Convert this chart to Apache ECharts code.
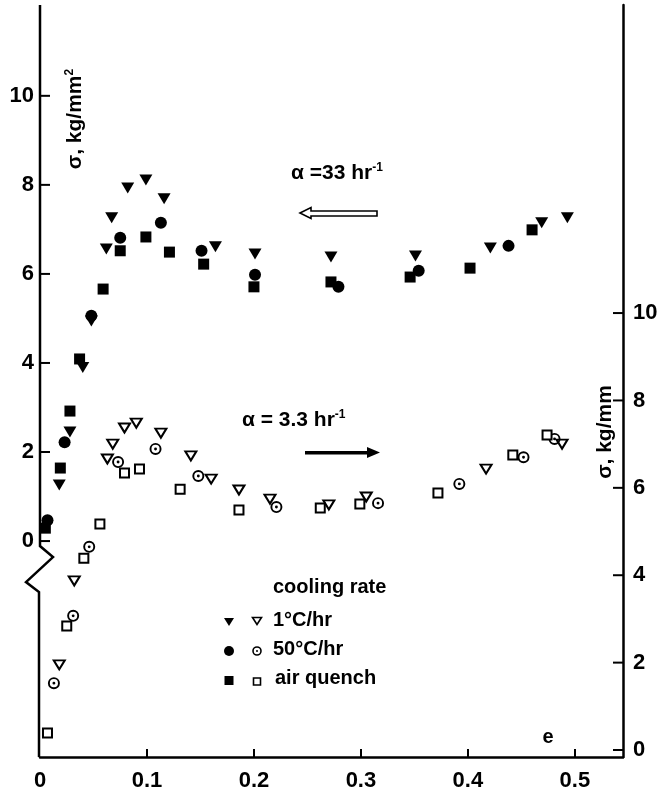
<!DOCTYPE html>
<html>
<head>
<meta charset="utf-8">
<script src="https://cdn.jsdelivr.net/npm/echarts@6/dist/echarts.min.js"></script>
<style>
  html, body { margin: 0; padding: 0; background: #fff; }
  #chart { width: 670px; height: 795px; }
</style>
</head>
<body>
<div id="chart"></div>
<script>
// strain (x) vs stress, alpha = 33 hr^-1 -> left axis, filled symbols
var fast1C = [[0.018,1.26],[0.028,2.45],[0.040,3.90],[0.048,4.94],[0.062,6.56],[0.067,7.26],[0.082,7.93],[0.099,8.11],[0.116,7.69],[0.164,6.61],[0.201,6.45],[0.272,6.38],[0.351,6.40],[0.421,6.58],[0.469,7.15],[0.493,7.26]];
var fast50C = [[0.007,0.47],[0.023,2.22],[0.048,5.06],[0.075,6.81],[0.113,7.15],[0.151,6.52],[0.201,5.98],[0.279,5.71],[0.354,6.07],[0.438,6.63]];
var fastAir = [[0.005,0.29],[0.019,1.64],[0.028,2.92],[0.037,4.09],[0.059,5.66],[0.075,6.52],[0.099,6.83],[0.121,6.49],[0.153,6.22],[0.200,5.71],[0.272,5.82],[0.346,5.93],[0.402,6.13],[0.460,6.99]];

// alpha = 3.3 hr^-1 -> right axis, open symbols
var slow1C = [[0.018,1.95],[0.032,3.87],[0.063,6.66],[0.068,7.00],[0.079,7.37],[0.090,7.48],[0.113,7.25],[0.141,6.73],[0.160,6.20],[0.186,5.95],[0.215,5.74],[0.270,5.61],[0.305,5.79],[0.417,6.43],[0.488,7.00]];
var slow50C = [[0.013,1.53],[0.031,3.07],[0.046,4.65],[0.073,6.59],[0.108,6.89],[0.148,6.27],[0.221,5.56],[0.316,5.65],[0.392,6.09],[0.452,6.70],[0.481,7.12]];
var slowAir = [[0.007,0.39],[0.025,2.84],[0.041,4.39],[0.056,5.17],[0.079,6.34],[0.093,6.43],[0.131,5.97],[0.186,5.49],[0.262,5.54],[0.299,5.63],[0.372,5.88],[0.442,6.75],[0.474,7.21]];

var xTicks = [0, 0.1, 0.2, 0.3, 0.4, 0.5];
var yTicks = [0, 2, 4, 6, 8, 10];

var FONT = 'Liberation Sans';
var INK = '#000';
var dotCircle = 'path://M10,0A10,10,0,1,1,10,20A10,10,0,1,1,10,0ZM10,3.2A6.8,6.8,0,1,0,10,16.8A6.8,6.8,0,1,0,10,3.2ZM10,7.6A2.4,2.4,0,1,1,10,12.4A2.4,2.4,0,1,1,10,7.6Z';

var labelStyle = { fontFamily: FONT, fontWeight: 'bold', fontSize: 22, color: INK };

function filled(name, data, symbol, size, rot) {
  return {
    name: name, type: 'scatter', yAxisIndex: 0, data: data,
    symbol: symbol, symbolSize: size, symbolRotate: rot || 0,
    itemStyle: { color: INK, opacity: 1 }
  };
}
function open(name, data, symbol, size, rot) {
  return {
    name: name, type: 'scatter', yAxisIndex: 1, data: data,
    symbol: symbol, symbolSize: size, symbolRotate: rot || 0,
    itemStyle: symbol === dotCircle ? { color: INK, opacity: 1 } : { color: '#fff', borderColor: INK, borderWidth: 2, opacity: 1 }
  };
}

var option = {
  animation: false,
  backgroundColor: '#fff',
  grid: { left: 40, right: 47, top: 5, bottom: 38 },
  xAxis: {
    type: 'value', min: 0, max: 0.545,
    axisLine: { onZero: false, lineStyle: { color: INK, width: 2.5 } },
    axisTick: { inside: true, length: 8, lineStyle: { color: INK, width: 2 }, customValues: [0.1, 0.2, 0.3, 0.4, 0.5] },
    axisLabel: Object.assign({ margin: 13, customValues: xTicks, formatter: function (v) { return v === 0 ? '0' : v.toFixed(1); } }, labelStyle),
    splitLine: { show: false }
  },
  yAxis: [
    {
      type: 'value', position: 'left', min: -4.85, max: 12.04,
      axisLine: { show: false },
      axisTick: { show: false },
      axisLabel: Object.assign({ margin: 6, customValues: yTicks }, labelStyle),
      splitLine: { show: false }
    },
    {
      type: 'value', position: 'right', min: -0.16, max: 17.05,
      axisLine: { show: true, onZero: false, lineStyle: { color: INK, width: 2.5 } },
      axisTick: { show: false },
      axisLabel: Object.assign({ margin: 10, customValues: yTicks }, labelStyle),
      splitLine: { show: false }
    }
  ],
  series: [
    filled('1°C/hr, 33', fast1C, 'triangle', [13, 11], 180),
    filled('50°C/hr, 33', fast50C, 'circle', 12),
    filled('air quench, 33', fastAir, 'rect', 11),
    open('1°C/hr, 3.3', slow1C, 'triangle', [11, 9], 180),
    open('50°C/hr, 3.3', slow50C, dotCircle, 12),
    open('air quench, 3.3', slowAir, 'rect', 9)
  ]
};

var chart = echarts.init(document.getElementById('chart'));
chart.setOption(option);

// broken left axis, y ticks, labels and annotations
var x0 = chart.convertToPixel({ xAxisIndex: 0 }, 0);
var x1 = chart.convertToPixel({ xAxisIndex: 0 }, 0.545);
var yTop = chart.convertToPixel({ yAxisIndex: 0 }, 12.04);
var yZero = chart.convertToPixel({ yAxisIndex: 0 }, 0);
var yBot = chart.convertToPixel({ yAxisIndex: 0 }, -4.85);

var supRich = {
  m: { fontFamily: FONT, fontWeight: 'bold', fontSize: 21, fill: INK },
  s: { fontFamily: FONT, fontWeight: 'bold', fontSize: 12, fill: INK, verticalAlign: 'top', padding: [0, 0, 10, 0] }
};

function tri(cx, cy, w, h, fill) {
  return { type: 'polygon', shape: { points: [[cx - w / 2, cy - h / 2], [cx + w / 2, cy - h / 2], [cx, cy + h / 2]] },
    style: { fill: fill ? INK : '#fff', stroke: INK, lineWidth: fill ? 0 : 1.6 } };
}
function word(x, y, s) {
  return { type: 'text', x: x, y: y, style: { text: s, fontFamily: FONT, fontWeight: 'bold', fontSize: 20, fill: INK, verticalAlign: 'middle' } };
}
function seg(pts, w) {
  return { type: 'polyline', z: 50, shape: { points: pts }, style: { stroke: INK, lineWidth: w, fill: null } };
}

var graphic = [
  seg([[x0, yTop], [x0, yZero + 5], [x0 + 13, yZero + 16], [x0 - 14, yZero + 41], [x0 - 1, yZero + 51], [x0 - 1, yBot]], 2.5),

  // axis titles
  { type: 'text', x: 75, y: 119, rotation: Math.PI / 2,
    style: { text: '{m|σ, kg/mm}{s|2}', rich: supRich, fill: INK, align: 'center', verticalAlign: 'middle' } },
  { type: 'text', x: 605, y: 432, rotation: Math.PI / 2,
    style: { text: 'σ, kg/mm', fontFamily: FONT, fontWeight: 'bold', fontSize: 21, fill: INK, align: 'center', verticalAlign: 'middle' } },

  // alpha annotations
  { type: 'text', x: 291, y: 173,
    style: { text: '{m|α =33 hr}{s|-1}', rich: supRich, fill: INK, verticalAlign: 'middle' } },
  { type: 'polygon', shape: { points: [[300, 213], [311, 207.5], [311, 211], [377, 211], [377, 216], [311, 216], [311, 218.5]] },
    style: { fill: '#fff', stroke: INK, lineWidth: 1.6 } },
  { type: 'text', x: 242, y: 420,
    style: { text: '{m|α = 3.3 hr}{s|-1}', rich: supRich, fill: INK, verticalAlign: 'middle' } },
  { type: 'polygon', shape: { points: [[305, 451], [367, 451], [367, 447], [380, 452.5], [367, 458], [367, 454.5], [305, 454.5]] },
    style: { fill: INK } },

  // legend
  word(273, 587, 'cooling rate'),
  word(273, 620, '1°C/hr'),
  word(273, 649, '50°C/hr'),
  word(275, 678, 'air quench'),
  tri(229, 622, 10, 8, true),
  tri(257, 621, 9, 7, false),
  { type: 'circle', shape: { cx: 229, cy: 651, r: 5 }, style: { fill: INK } },
  { type: 'circle', shape: { cx: 257, cy: 651, r: 4 }, style: { fill: '#fff', stroke: INK, lineWidth: 1.6 } },
  { type: 'circle', shape: { cx: 257, cy: 651, r: 1 }, style: { fill: INK } },
  { type: 'rect', shape: { x: 224.5, y: 676, width: 9, height: 9 }, style: { fill: INK } },
  { type: 'rect', shape: { x: 253.5, y: 678, width: 7, height: 7 }, style: { fill: '#fff', stroke: INK, lineWidth: 1.6 } },

  { type: 'text', x: 548, y: 737, style: { text: 'e', fontFamily: FONT, fontWeight: 'bold', fontSize: 20, fill: INK, align: 'center', verticalAlign: 'middle' } }
];

// inward ticks on both value axes
yTicks.forEach(function (v) {
  var yl = chart.convertToPixel({ yAxisIndex: 0 }, v);
  var yr = chart.convertToPixel({ yAxisIndex: 1 }, v);
  graphic.push(seg([[x0, yl], [x0 + 10, yl]], 2));
  graphic.push(seg([[x1, yr], [x1 - 10, yr]], 2));
});

chart.setOption({ graphic: graphic });
</script>
</body>
</html>
